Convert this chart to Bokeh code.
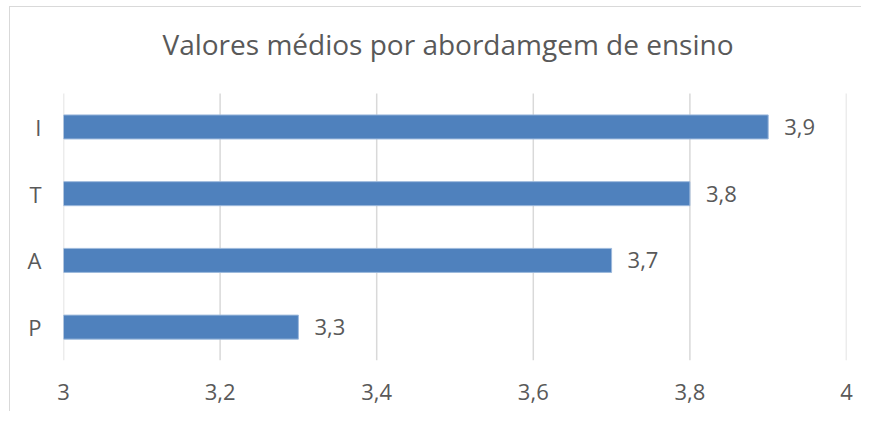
from bokeh.plotting import figure
from bokeh.models import ColumnDataSource, Range1d, FixedTicker
from bokeh.embed import file_html
from bokeh.resources import INLINE
from bokeh.core.properties import value

categories = ["P", "A", "T", "I"]
values = [3.3, 3.7, 3.8, 3.9]
x_ticks = [3.0, 3.2, 3.4, 3.6, 3.8, 4.0]
x_tick_labels = ["3", "3,2", "3,4", "3,6", "3,8", "4"]
title_text = "Valores médios por abordamgem de ensino"

FONT = "Open Sans"
TXT = "#595959"

n = len(categories)
ypos = [i + 0.5 for i in range(n)]
labels = [("%.1f" % v).replace(".", ",") for v in values]
src = ColumnDataSource(dict(y=ypos, val=values, lab=labels))

X0, X1 = 3, 4
p = figure(
    width=852, height=405,
    y_range=Range1d(0, n + 1.2), x_range=Range1d(X0, X1),
    output_backend="svg", toolbar_location=None,
    min_border_left=53, min_border_right=16,
    min_border_top=6, min_border_bottom=52,
)
p.styles = {"margin-left": "9px", "margin-top": "6px",
            "border-left": "1px solid #d9d9d9", "border-top": "1px solid #d9d9d9"}

# vertical gridlines (only over the category band)
p.segment(x0=x_ticks, y0=[0] * len(x_ticks), x1=x_ticks, y1=[n] * len(x_ticks),
          line_color="#D9D9D9", line_width=1.5)

p.hbar(y="y", right="val", left=X0, height=0.36, source=src,
       fill_color="#4F81BD", line_color="#9DB9DC", line_width=1)

p.text(x="val", y="y", text="lab", source=src, x_offset=16,
       text_baseline="middle", text_align="left",
       text_font=value(FONT), text_font_size="22px", text_color=TXT)

# chart title
p.text(x=[(X0 + X1) / 2], y=[n + 0.75], text=[title_text], x_offset=-7,
       text_align="center", text_baseline="middle",
       text_font=value(FONT), text_font_size="28px", text_color=TXT)

p.xaxis.ticker = FixedTicker(ticks=x_ticks)
p.xaxis.major_label_overrides = {t: l for t, l in zip(x_ticks, x_tick_labels)}
p.yaxis.ticker = FixedTicker(ticks=ypos)
p.yaxis.major_label_overrides = {t: c for t, c in zip(ypos, categories)}

for ax in (p.xaxis[0], p.yaxis[0]):
    ax.axis_line_color = None
    ax.major_tick_line_color = None
    ax.minor_tick_line_color = None
    ax.major_label_text_font = FONT
    ax.major_label_text_font_size = "22px"
    ax.major_label_text_color = TXT

p.xaxis.major_label_standoff = 17
p.yaxis.major_label_standoff = 16

p.xgrid.grid_line_color = None
p.ygrid.grid_line_color = None
p.outline_line_color = None

open("out.html", "w").write(file_html(p, INLINE))
